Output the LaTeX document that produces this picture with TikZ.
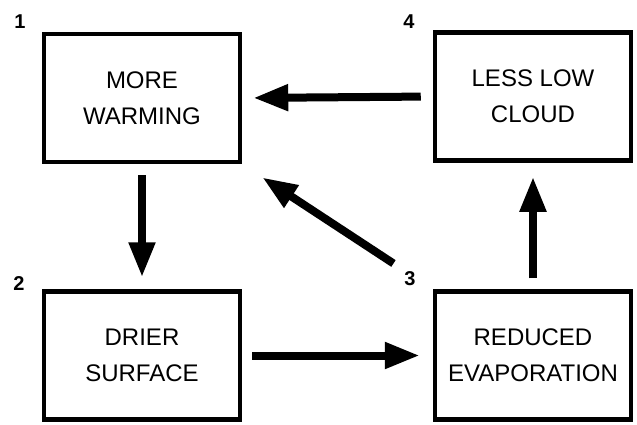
\documentclass[tikz,border=0pt]{standalone}
\usepackage{fontspec}
\setmainfont{Liberation Sans}
\usetikzlibrary{arrows.meta}
\begin{document}
\begin{tikzpicture}[x=1pt,y=-1pt,
  box/.style={draw, line width=4.5pt, minimum width=196pt, minimum height=128pt, inner sep=0pt, align=center,
    font=\fontsize{24}{36}\selectfont},
  num/.style={font=\fontsize{20}{20}\selectfont\bfseries, inner sep=0pt},
  bigarrow/.style={line width=8pt, -{Triangle[length=35pt,width=25pt]}}]
\useasboundingbox (0,0) rectangle (637,424);
\node[box] (b1) at (142,98) {MORE\\WARMING};
\node[box] (b4) at (533,96.5) {LESS LOW\\CLOUD};
\node[box] (b2) at (142,355.5) {DRIER\\SURFACE};
\node[box] (b3) at (533,355.5) {REDUCED\\EVAPORATION};
\node[num] (n1) at (20,22) {1};
\node[num] (n4) at (409,22) {4};
\node[num] (n2) at (19,284) {2};
\node[num] (n3) at (410,279) {3};
\draw[bigarrow, shorten <=12pt, shorten >=11pt] (b4.west) -- (b1.east);
\draw[bigarrow, shorten <=11pt, shorten >=12pt] (b1.south) -- (b2.north);
\draw[bigarrow, shorten <=10pt, shorten >=13pt] (b2.east) -- (b3.west);
\draw[bigarrow, shorten <=11pt, shorten >=14pt] (b3.north) -- (b4.south);
\draw[bigarrow, shorten <=47pt, shorten >=24pt] (b3.north west) -- (b1.south east);
\end{tikzpicture}
\end{document}
